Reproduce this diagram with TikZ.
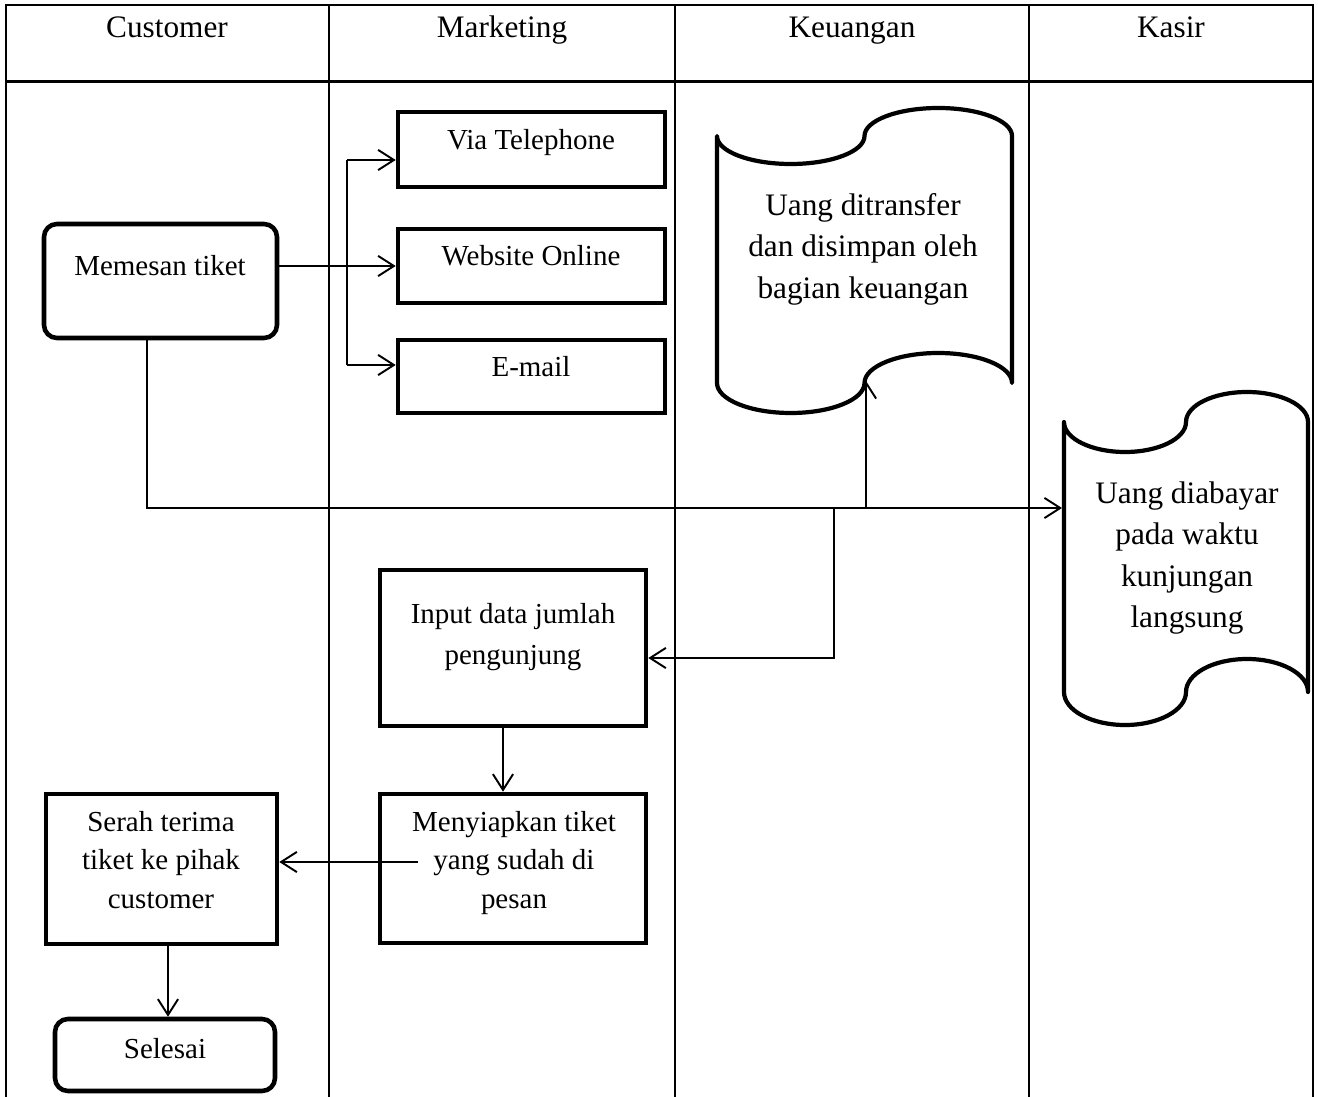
\documentclass[tikz,border=0pt]{standalone}
\usepackage{fontspec}
\setmainfont{Liberation Serif}
\usetikzlibrary{arrows.meta,fit}
\begin{document}
\begin{tikzpicture}[x=0.02cm,y=-0.02cm,
  tbl/.style={line width=1.2pt},
  tblhead/.style={line width=1.7pt},
  procbox/.style={draw, line width=2.6pt, inner sep=0pt},
  roundbox/.style={procbox, rounded corners=0.26cm},
  scrollshape/.style={draw, line width=2.4pt, line join=round},
  conn/.style={line width=1.1pt},
  arr/.style={conn, -{Straight Barb[length=9pt,width=11.5pt]}},
  fbox/.style={font=\fontsize{16.5}{23.8}\selectfont, inner sep=0pt},
  fbig/.style={font=\fontsize{17.8}{23.8}\selectfont, inner sep=0pt},
  single/.style={anchor=base},
  multi/.style={align=center, anchor=center},
]
\useasboundingbox (0,0) rectangle (1318,1097);

% ---- swimlane table ----
\draw[tbl] (6,1100) -- (6,5) -- (1313,5) -- (1313,1100);
\draw[tblhead] (6,82) -- (1313,82);
\draw[tbl] (329,5) -- (329,1100);
\draw[tbl] (675,5) -- (675,1100);
\draw[tbl] (1029,5) -- (1029,1100);

\node[fbig, single] (h1) at (167,38) {Customer};
\node[fbig, single] (h2) at (502,38) {Marketing};
\node[fbig, single] (h3) at (852,38) {Keuangan};
\node[fbig, single] (h4) at (1171,38) {Kasir};

% ---- boxes ----
\node[roundbox, fit={(44,224) (277,338)}] (mt) {};
\node[fbox, single] (mt-t) at (160,276) {Memesan tiket};

\node[procbox, fit={(398,112) (665,187)}] (vt) {};
\node[fbox, single] (vt-t) at (531,150) {Via Telephone};

\node[procbox, fit={(398,229) (665,303)}] (wo) {};
\node[fbox, single] (wo-t) at (531,266) {Website Online};

\node[procbox, fit={(398,340) (665,413)}] (em) {};
\node[fbox, single] (em-t) at (531,377) {E-mail};

\node[procbox, fit={(380,570) (646,726)}] (in) {};
\node[fbox, multi, font=\fontsize{16.5}{23.8}\selectfont] (in-t) at (513,635.6)
  {\strut Input data jumlah\\\strut pengunjung};

\node[procbox, fit={(380,794) (646,943)}] (my) {};
\node[fbox, multi, font=\fontsize{16.5}{22}\selectfont] (my-t) at (514,862)
  {\strut Menyiapkan tiket\\\strut yang sudah di\\\strut pesan};

\node[procbox, fit={(46,794) (277,944)}] (st) {};
\node[fbox, multi, font=\fontsize{16.5}{22}\selectfont] (st-t) at (161,862)
  {\strut Serah terima\\\strut tiket ke pihak\\\strut customer};

\node[roundbox, fit={(55,1019) (275,1091)}] (se) {};
\node[fbox, single] (se-t) at (165,1058) {Selesai};

% ---- scroll (punched tape) shapes ----
\draw[scrollshape] (717,136)
  .. controls (717,151.46) and (750.02,164) .. (790.75,164)
  .. controls (831.48,164) and (864.5,151.46) .. (864.5,136)
  .. controls (864.5,120.54) and (897.52,108) .. (938.25,108)
  .. controls (978.98,108) and (1012,120.54) .. (1012,136)
  -- (1012,383)
  .. controls (1012,366.43) and (978.98,353) .. (938.25,353)
  .. controls (897.52,353) and (864.5,366.43) .. (864.5,383)
  .. controls (864.5,399.57) and (831.48,413) .. (790.75,413)
  .. controls (750.02,413) and (717,399.57) .. (717,383)
  -- cycle;
\node[fbig, multi] (s1-t) at (863,248.6)
  {\strut Uang ditransfer\\\strut dan disimpan oleh\\\strut bagian keuangan};

\draw[scrollshape] (1064,422)
  .. controls (1064,438.57) and (1091.31,452) .. (1125,452)
  .. controls (1158.69,452) and (1186,438.57) .. (1186,422)
  .. controls (1186,405.43) and (1213.31,392) .. (1247,392)
  .. controls (1280.69,392) and (1308,405.43) .. (1308,422)
  -- (1308,692)
  .. controls (1308,673.77) and (1280.69,659) .. (1247,659)
  .. controls (1213.31,659) and (1186,673.77) .. (1186,692)
  .. controls (1186,710.23) and (1158.69,725) .. (1125,725)
  .. controls (1091.31,725) and (1064,710.23) .. (1064,692)
  -- cycle;
\node[fbig, multi, font=\fontsize{17.8}{23.6}\selectfont] (s2-t) at (1187,557)
  {\strut Uang diabayar\\\strut pada waktu\\\strut kunjungan\\\strut langsung};

\coordinate (s1b) at (866,381);
\coordinate (s2w) at (1062,508);

% ---- connectors ----
\coordinate (br) at (347,266);
\coordinate (brT) at (347,160);
\coordinate (brB) at (347,365);
\draw[conn] (br -| mt.east) -- (br);
\draw[conn] (brT) -- (brB);
\draw[arr] (brT) -- (brT -| vt.west);
\draw[arr] (br) -- (br -| wo.west);
\draw[arr] (brB) -- (brB -| em.west);

\draw[arr] ([xshift=-0.27cm]mt.south) |- (s2w);

\coordinate (j2) at (866,508);
\draw[arr] (j2) -- (s1b);

\coordinate (j3) at (834,508);
\coordinate (j3b) at (834,658);
\draw[arr] (j3) -- (j3b) -- (j3b -| in.east);

\draw[arr] ([xshift=-0.2cm]in.south) -- ([xshift=-0.2cm]in.south |- my.north);

\coordinate (c7) at (418,862);
\draw[arr] (c7) -- (c7 -| st.east);

\draw[arr] ([xshift=0.13cm]st.south) -- ([xshift=0.13cm]st.south |- se.north);
\end{tikzpicture}
\end{document}
